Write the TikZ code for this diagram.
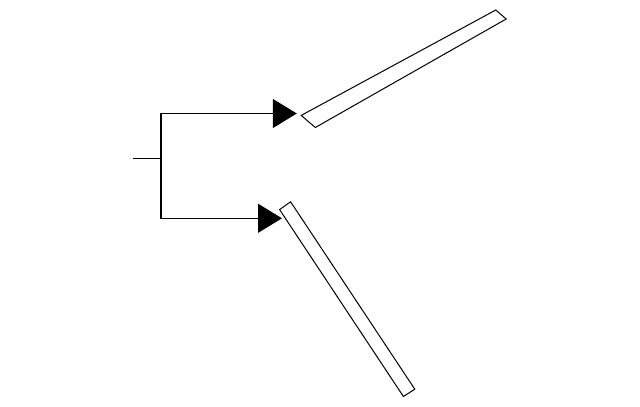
\documentclass[tikz,border=0pt]{standalone}
\usetikzlibrary{arrows.meta}
\begin{document}
\begin{tikzpicture}[x=0.75pt,y=-0.75pt,
  wire/.style={line width=0.9pt,black},
  feed/.style={wire,-{Triangle[length=18pt,width=21.75pt]}},
  bar/.style={line width=0.75pt,black,fill=white,line join=miter}]
\useasboundingbox (0,0) rectangle (640,407);
% connector points
\coordinate (stub) at (133,158.5);
\coordinate (junc) at (161,158.5);
\coordinate (tipA) at (296.8,113.5);
\coordinate (tipB) at (282,218.3);
% upper bar corners
\coordinate (a1) at (301.2,115.4);
\coordinate (a2) at (315.3,127.5);
\coordinate (a3) at (506.2,19);
\coordinate (a4) at (495.8,10);
% lower bar corners
\coordinate (b1) at (279.6,209.6);
\coordinate (b2) at (290.6,201.8);
\coordinate (b3) at (414.8,389.2);
\coordinate (b4) at (403.4,396.5);
\draw[bar] (a1) -- (a2) -- (a3) -- (a4) -- cycle;
\draw[bar] (b1) -- (b2) -- (b3) -- (b4) -- cycle;
\draw[wire] (stub) -- (junc);
\draw[feed] (junc) |- (tipA);
\draw[feed] (junc) |- (tipB);
\end{tikzpicture}
\end{document}
